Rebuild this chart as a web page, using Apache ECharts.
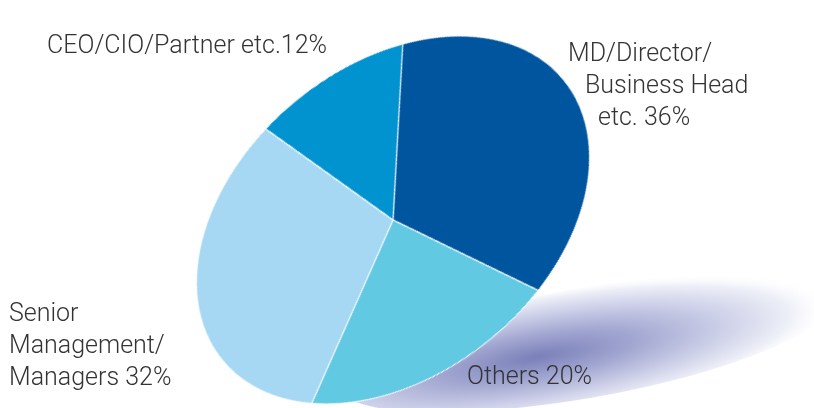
<!DOCTYPE html>
<html>
<head>
<meta charset="utf-8">
<script src="https://cdn.jsdelivr.net/npm/echarts@6/dist/echarts.min.js"></script>
<style>
  html, body { margin: 0; padding: 0; background: #fff; }
  #wrap { position: relative; width: 814px; height: 408px; overflow: hidden; }
  #back { position: absolute; left: 0; top: 0; width: 814px; height: 408px; }
  /* the pie is drawn round and then tilted into an ellipse */
  #pie {
    position: absolute; left: 243px; top: 70px; width: 300px; height: 300px;
    transform: rotate(-39.5deg) scale(1.493, 1.04);
    transform-origin: 150px 150px;
  }
</style>
</head>
<body>
<div id="wrap">
  <div id="back"></div>
  <div id="pie"></div>
</div>
<script>
// data, in drawing order (clockwise from the CEO/MD edge)
const categories = ['MD/Director/Business Head etc.', 'Others', 'Senior Management/Managers', 'CEO/CIO/Partner etc.'];
const shares = [36, 20, 32, 12];
const sliceColors = ['#00559f', '#62c9e3', '#a6d8f3', '#0093d0'];
// label text: lines before the number, the number goes at the end of the last line
const labelLines = [
  ['MD/Director/', 'Business Head', 'etc. '],
  ['Others '],
  ['Senior', 'Management/', 'Managers '],
  ['CEO/CIO/Partner etc.']
];

// where each label line sits (left x, middle y)
const labelPos = [
  [[568, 55], [585, 87], [598, 119]],
  [[467, 378]],
  [[9, 315], [9, 347], [9, 379]],
  [[47, 47]]
];

const back = echarts.init(document.getElementById('back'));
const pie = echarts.init(document.getElementById('pie'), null, { devicePixelRatio: 2 });

var texts = [];
labelLines.forEach(function (lines, i) {
  lines.forEach(function (line, j) {
    var txt = line;
    if (j === lines.length - 1) txt += shares[i] + '%';
    texts.push({
      type: 'text',
      x: labelPos[i][j][0],
      y: labelPos[i][j][1],
      style: {
        text: txt,
        fill: '#333',
        font: '300 25px Roboto',
        textAlign: 'left',
        textVerticalAlign: 'middle'
      }
    });
  });
});

back.setOption({
  backgroundColor: '#fff',
  animation: false,
  graphic: [
    {
      type: 'circle',
      x: 585, y: 343,
      rotation: 10 * Math.PI / 180,
      scaleX: 2.5, scaleY: 0.55,
      shape: { cx: 0, cy: 0, r: 100 },
      style: {
        fill: {
          type: 'radial', x: 0.4, y: 0.55, r: 0.6,
          colorStops: [
            { offset: 0, color: '#7a80b9' },
            { offset: 0.3, color: '#9ea3cf' },
            { offset: 0.6, color: '#c9cce6' },
            { offset: 0.85, color: '#eceef7' },
            { offset: 1, color: 'rgba(255,255,255,0)' }
          ]
        }
      }
    }
  ].concat(texts)
});

pie.setOption({
  animation: false,
  series: [
    {
      type: 'pie',
      center: ['50%', '50%'],
      radius: 148,
      startAngle: 57.3,
      clockwise: true,
      label: { show: false },
      labelLine: { show: false },
      emphasis: { disabled: true },
      itemStyle: { borderColor: '#fff', borderWidth: 0.8 },
      data: categories.map(function (c, i) {
        return { name: c, value: shares[i], itemStyle: { color: sliceColors[i] } };
      })
    }
  ]
});
</script>
</body>
</html>
